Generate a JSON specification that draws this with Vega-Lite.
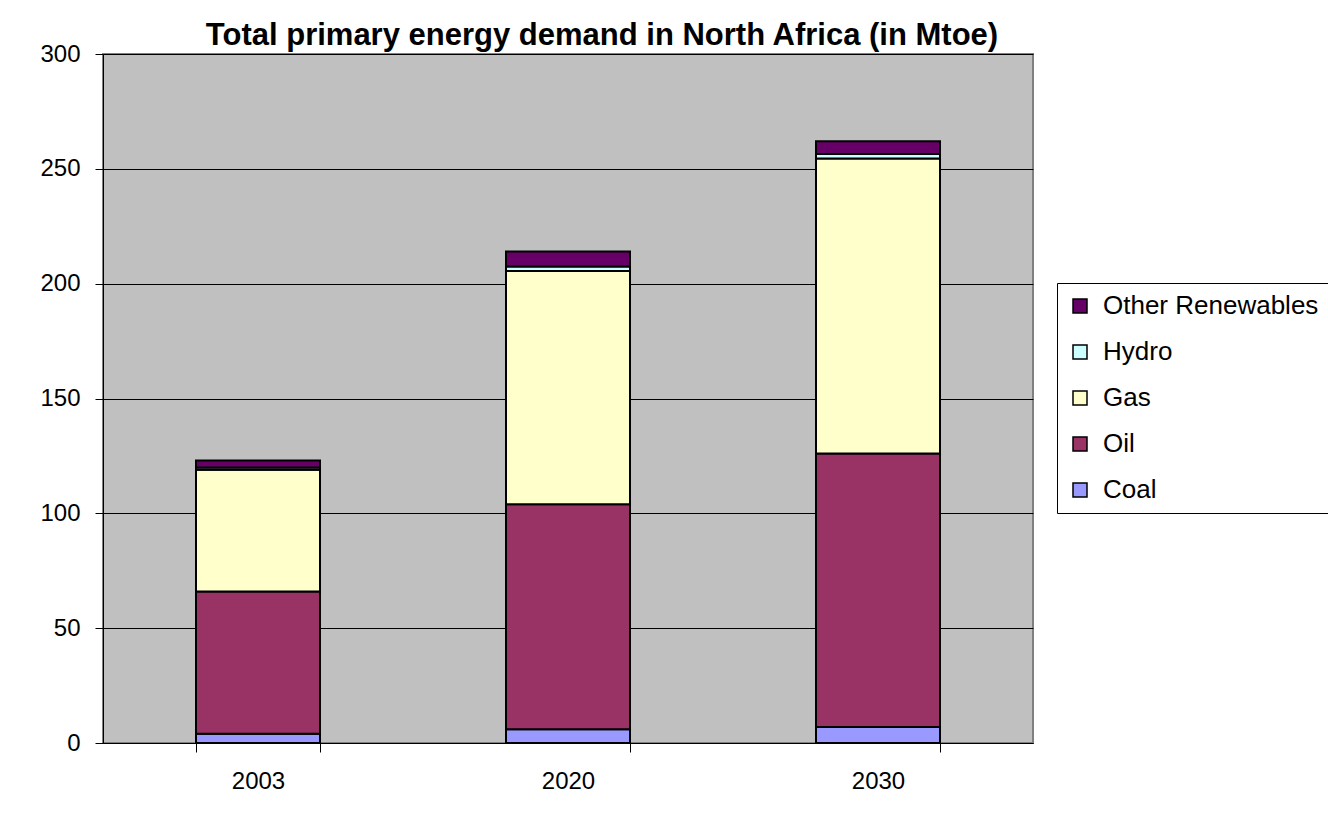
{
  "$schema": "https://vega.github.io/schema/vega-lite/v6.json",
  "autosize": "none",
  "width": 930,
  "height": 689,
  "padding": {"left": 103, "top": 54, "right": 295, "bottom": 84},
  "background": "white",
  "title": {
    "text": "Total primary energy demand in North Africa (in Mtoe)",
    "font": "Liberation Sans",
    "fontSize": 31,
    "fontWeight": "bold",
    "color": "black",
    "anchor": "middle",
    "dx": 34,
    "offset": -10
  },
  "data": {
    "values": [
      {"year": "2003", "source": "Coal", "ord": 1, "value": 4},
      {"year": "2003", "source": "Oil", "ord": 2, "value": 62},
      {"year": "2003", "source": "Gas", "ord": 3, "value": 53},
      {"year": "2003", "source": "Hydro", "ord": 4, "value": 1},
      {"year": "2003", "source": "Other Renewables", "ord": 5, "value": 3},
      {"year": "2020", "source": "Coal", "ord": 1, "value": 6},
      {"year": "2020", "source": "Oil", "ord": 2, "value": 98},
      {"year": "2020", "source": "Gas", "ord": 3, "value": 101.5},
      {"year": "2020", "source": "Hydro", "ord": 4, "value": 2},
      {"year": "2020", "source": "Other Renewables", "ord": 5, "value": 6.5},
      {"year": "2030", "source": "Coal", "ord": 1, "value": 7},
      {"year": "2030", "source": "Oil", "ord": 2, "value": 119},
      {"year": "2030", "source": "Gas", "ord": 3, "value": 128.5},
      {"year": "2030", "source": "Hydro", "ord": 4, "value": 2},
      {"year": "2030", "source": "Other Renewables", "ord": 5, "value": 5.5}
    ]
  },
  "mark": {"type": "bar", "stroke": "black", "strokeWidth": 2},
  "encoding": {
    "x": {
      "field": "year",
      "type": "nominal",
      "scale": {"paddingInner": 0.6, "paddingOuter": 0.3},
      "axis": {
        "title": null,
        "labelAngle": 0,
        "labelFont": "Liberation Sans",
        "labelFontSize": 24,
        "labelColor": "black",
        "labelPadding": 17,
        "tickBand": "extent",
        "tickSize": 9,
        "tickColor": "black",
        "domainColor": "black",
        "domainWidth": 1
      }
    },
    "y": {
      "field": "value",
      "type": "quantitative",
      "stack": "zero",
      "scale": {"domain": [0, 300], "nice": false},
      "axis": {
        "title": null,
        "values": [0, 50, 100, 150, 200, 250, 300],
        "labelFont": "Liberation Sans",
        "labelFontSize": 24,
        "labelColor": "black",
        "labelPadding": 15,
        "tickSize": 8,
        "tickColor": "black",
        "domainColor": "black",
        "gridColor": "black",
        "gridOpacity": 1,
        "gridWidth": 1
      }
    },
    "color": {
      "field": "source",
      "type": "nominal",
      "scale": {
        "domain": ["Other Renewables", "Hydro", "Gas", "Oil", "Coal"],
        "range": ["#660066", "#CCFFFF", "#FFFFCC", "#993366", "#9999FF"]
      },
      "legend": {
        "title": null,
        "orient": "none",
        "legendX": 954,
        "legendY": 229,
        "symbolType": "square",
        "symbolSize": 196,
        "symbolStrokeColor": "black",
        "symbolStrokeWidth": 1.5,
        "labelFont": "Liberation Sans",
        "labelFontSize": 26,
        "labelColor": "black",
        "labelLimit": 0,
        "rowPadding": 20,
        "labelOffset": 10,
        "strokeColor": "black",
        "padding": 10,
        "fillColor": "white"
      }
    },
    "order": {"field": "ord", "type": "quantitative"}
  },
  "config": {
    "view": {"fill": "#C0C0C0", "stroke": "#808080", "strokeWidth": 2}
  }
}
